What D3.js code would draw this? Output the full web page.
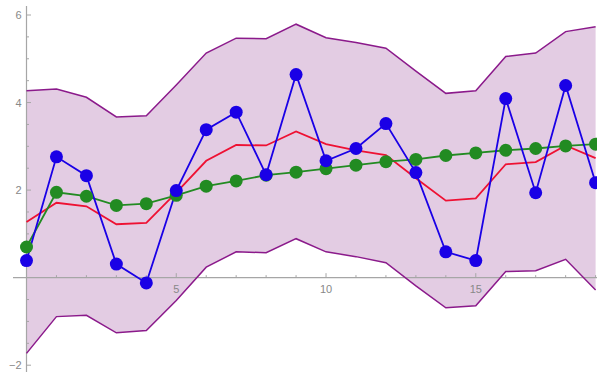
<!DOCTYPE html>
<html><head><meta charset="utf-8">
<script src="https://cdn.jsdelivr.net/npm/d3@7"></script>
<style>body{margin:0;background:#fff}svg{display:block}</style>
</head><body>
<svg id="c" width="597" height="372"></svg>
<script>
const xs = d3.range(0, 20);
const blue = [0.39,2.76,2.33,0.31,-0.12,1.99,3.38,3.78,2.35,4.64,2.67,2.95,3.52,2.40,0.59,0.39,4.09,1.94,4.39,2.17];
const green = [0.70,1.95,1.86,1.65,1.69,1.88,2.09,2.21,2.34,2.41,2.49,2.57,2.65,2.70,2.79,2.85,2.91,2.95,3.01,3.05];
const red = [1.27,1.71,1.63,1.22,1.25,1.94,2.67,3.03,3.02,3.34,3.05,2.91,2.80,2.27,1.76,1.81,2.59,2.64,3.02,2.73];
const upper = [4.27,4.31,4.12,3.67,3.70,4.40,5.13,5.47,5.46,5.79,5.48,5.37,5.24,4.72,4.21,4.27,5.05,5.13,5.62,5.73];
const lower = [-1.73,-0.89,-0.86,-1.26,-1.21,-0.52,0.24,0.59,0.57,0.89,0.59,0.48,0.34,-0.19,-0.69,-0.64,0.14,0.16,0.42,-0.28];
const xTicks = [5,10,15];
const yTicks = [-2,2,4,6];

const svg = d3.select("#c");
const x = d3.scaleLinear().domain([0,19]).range([26.5,595.6]);
const y = d3.scaleLinear().domain([-2,6]).range([365.2,15]);

// band
const area = d3.area().x((d,i)=>x(xs[i])).y0((d,i)=>y(lower[i])).y1((d,i)=>y(upper[i]));
svg.append("path").datum(xs).attr("d",area).attr("fill","#e3cce3");

// axes
const axCol = "#a6a6a6";
const g = svg.append("g");
g.append("line").attr("x1",13).attr("x2",597).attr("y1",y(0)).attr("y2",y(0)).attr("stroke",axCol).attr("stroke-width",1.2);
g.append("line").attr("x1",x(0)).attr("x2",x(0)).attr("y1",6).attr("y2",372).attr("stroke",axCol).attr("stroke-width",1.2);
// x ticks
d3.range(1,20).forEach(t=>{
  const major = t%5===0;
  g.append("line").attr("x1",x(t)).attr("x2",x(t)).attr("y1",y(0)).attr("y2",y(0)-(major?4.5:2.5)).attr("stroke",axCol);
});
xTicks.forEach(t=>{
  g.append("text").attr("x",x(t)).attr("y",y(0)+15).attr("text-anchor","middle")
   .attr("font-family","Liberation Sans, Arial, sans-serif").attr("font-size",11).attr("fill","#888").text(t);
});
// y ticks
d3.range(-2.0,6.01,0.5).forEach(v=>{
  if (Math.abs(v)<1e-9) return;
  const major = Math.abs(v-Math.round(v))<1e-9 && Math.round(v)%2===0;
  g.append("line").attr("x1",x(0)).attr("x2",x(0)+(major?4.5:2.5)).attr("y1",y(v)).attr("y2",y(v)).attr("stroke",axCol);
});
yTicks.forEach(v=>{
  g.append("text").attr("x",x(0)-5).attr("y",y(v)+4).attr("text-anchor","end")
   .attr("font-family","Liberation Sans, Arial, sans-serif").attr("font-size",11).attr("fill","#888").text(v<0?"\u2212"+(-v):v);
});

const line = arr => d3.line().x((d,i)=>x(xs[i])).y((d,i)=>y(arr[i]))(xs);
svg.append("path").attr("d",line(upper)).attr("fill","none").attr("stroke","#8b1a8b").attr("stroke-width",1.5);
svg.append("path").attr("d",line(lower)).attr("fill","none").attr("stroke","#8b1a8b").attr("stroke-width",1.5);
svg.append("path").attr("d",line(red)).attr("fill","none").attr("stroke","#ee1133").attr("stroke-width",1.8);

svg.append("path").attr("d",line(green)).attr("fill","none").attr("stroke","#228b22").attr("stroke-width",1.8);
svg.append("path").attr("d",line(blue)).attr("fill","none").attr("stroke","#1a00e6").attr("stroke-width",1.8);
svg.append("g").selectAll("circle").data(xs).join("circle")
  .attr("cx",(d,i)=>x(xs[i])).attr("cy",(d,i)=>y(green[i])).attr("r",6.5).attr("fill","#228b22");
svg.append("g").selectAll("circle").data(xs).join("circle")
  .attr("cx",(d,i)=>x(xs[i])).attr("cy",(d,i)=>y(blue[i])).attr("r",6.5).attr("fill","#1a00e6");
</script>
</body></html>
